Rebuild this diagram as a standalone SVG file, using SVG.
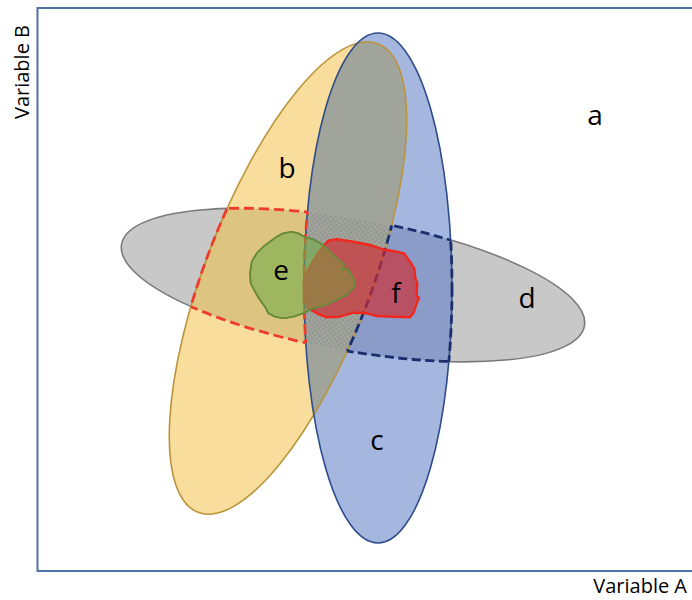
<svg xmlns="http://www.w3.org/2000/svg" xmlns:xlink="http://www.w3.org/1999/xlink" width="692" height="600" viewBox="0 0 692 600">
<style>
.lbl{font-family:"Open Sans","Liberation Sans",sans-serif;font-size:28px;fill:#000;text-anchor:middle}
.axis{font-family:"Open Sans","Liberation Sans",sans-serif;font-size:20px;fill:#000}
.rdash{fill:none;stroke:#ef3b2c;stroke-width:2.8;stroke-dasharray:10 5}
.bdash{fill:none;stroke:#1b2f6e;stroke-width:2.8;stroke-dasharray:9 4.5}
</style>
<defs>
<ellipse id="eB" cx="0" cy="0" rx="251" ry="83" transform="translate(288 278) rotate(-69)"/>
<ellipse id="eC" cx="378" cy="288" rx="74" ry="255"/>
<ellipse id="eD" cx="0" cy="0" rx="235" ry="66" transform="translate(353 285) rotate(10)"/>
<path id="pE" d="M251.7 261.7L256.7 253.3L263.3 246.7L270 241.7L276.7 236.7L283.3 233.3L291.7 231.7L298.3 233.3L305 237.3L313.3 239.3L323.3 245L331.7 253.3L338.3 259.5L344.5 264.5L341.5 270.5L347 268L351.7 275L355 281.7L353.3 288.3L346.7 295L336.7 300L326.7 305L313.3 308.3L303.3 313.3L293.3 316.7L283.3 318.3L275 316.7L268.3 313.3L265 306.7L260 300L255 291.7L250.7 283.3L250 273.3Z"/>
<path id="pF" d="M328.3 240.7L336.7 239.3L353.3 241.7L370 245L383.3 249.3L396.7 251.7L404 253.3L410 261.7L414.3 268.3L415.3 278.3L417.3 283.3L416.7 296.7L419 297.7L417.3 301.7L413.3 313.3L410 317.3L393.3 316.7L376.7 316L366.7 313.3L353.3 312.7L340 316.7L326.7 317.3L316.7 313.3L306.7 307.3L304 296.7L304.3 277.3L311.7 263.3L320 250Z"/>
<clipPath id="clipB"><ellipse cx="0" cy="0" rx="251" ry="83" transform="translate(288 278) rotate(-69)"/></clipPath>
<clipPath id="clipC"><ellipse cx="378" cy="288" rx="74" ry="255"/></clipPath>
<clipPath id="clipD"><ellipse cx="0" cy="0" rx="235" ry="66" transform="translate(353 285) rotate(10)"/></clipPath>
<clipPath id="clipF"><use xlink:href="#pF"/></clipPath>
<mask id="notB" maskUnits="userSpaceOnUse" x="0" y="0" width="692" height="600">
<rect x="0" y="0" width="692" height="600" fill="#fff"/>
<ellipse cx="0" cy="0" rx="251" ry="83" transform="translate(288 278) rotate(-69)" fill="#000"/>
</mask>
<mask id="notC" maskUnits="userSpaceOnUse" x="0" y="0" width="692" height="600">
<rect x="0" y="0" width="692" height="600" fill="#fff"/>
<ellipse cx="378" cy="288" rx="74" ry="255" fill="#000"/>
</mask>
<pattern id="stip" patternUnits="userSpaceOnUse" width="5" height="5">
<rect width="5" height="5" fill="#a2a59e"/>
<circle cx="1.25" cy="1.25" r="0.95" fill="#878a83"/>
<circle cx="3.75" cy="3.75" r="0.95" fill="#878a83"/>
</pattern>
</defs>
<rect width="692" height="600" fill="#fff"/>
<path d="M692 8H37.5V571H692" fill="none" stroke="#4f71a6" stroke-width="2"/>
<text class="axis" transform="translate(29 72) rotate(-90)" text-anchor="middle">Variable B</text>
<text class="axis" x="687" y="593" text-anchor="end">Variable A</text>

<g id="d">
<use xlink:href="#eD" fill="#c8c8c8" stroke="#7a7a7a" stroke-width="1.6"/>
</g>
<g id="b">
<use xlink:href="#eB" fill="#f9dd9d"/>
</g>
<g id="c">
<use xlink:href="#eC" fill="#a5b7df"/>
</g>
<g id="overlaps">
<use xlink:href="#eC" fill="#a0a49b" clip-path="url(#clipB)"/>
<use xlink:href="#eD" fill="#dec481" clip-path="url(#clipB)"/>
<use xlink:href="#eD" fill="#8a9cc7" clip-path="url(#clipC)"/>
<g clip-path="url(#clipB)"><use xlink:href="#eD" fill="url(#stip)" clip-path="url(#clipC)"/></g>
</g>
<g id="outlines">
<use xlink:href="#eB" fill="none" stroke="#bb943a" stroke-width="1.6"/>
<use xlink:href="#eC" fill="none" stroke="#2e4d8c" stroke-width="1.6"/>
</g>
<g id="bd-dashed">
<g clip-path="url(#clipB)"><use xlink:href="#eD" class="rdash" mask="url(#notC)"/></g>
<g clip-path="url(#clipD)"><use xlink:href="#eB" class="rdash" mask="url(#notC)"/></g>
<g clip-path="url(#clipB)"><g clip-path="url(#clipD)"><use xlink:href="#eC" class="rdash"/></g></g>
</g>
<g id="cd-dashed">
<g clip-path="url(#clipC)"><use xlink:href="#eD" class="bdash" mask="url(#notB)"/></g>
<g clip-path="url(#clipD)"><use xlink:href="#eC" class="bdash" mask="url(#notB)"/></g>
<g clip-path="url(#clipC)"><g clip-path="url(#clipD)"><use xlink:href="#eB" class="bdash"/></g></g>
</g>
<g id="f">
<use xlink:href="#pF" fill="#d22a30" fill-opacity="0.66" stroke="#f2281e" stroke-width="2.4" stroke-linejoin="round"/>
</g>
<g id="e">
<use xlink:href="#pE" fill="#70ad47" fill-opacity="0.58" stroke="#5a8a3a" stroke-width="1.6" stroke-linejoin="round"/>
<use xlink:href="#pE" fill="#9c7847" fill-opacity="0.92" clip-path="url(#clipF)"/>
<use xlink:href="#pE" fill="none" stroke="#6a8a3c" stroke-width="1.6" stroke-linejoin="round"/>
</g>
<g id="labels">
<text class="lbl" x="595" y="125">a</text>
<text class="lbl" x="287" y="178">b</text>
<text class="lbl" x="377" y="450">c</text>
<text class="lbl" x="527" y="308">d</text>
<text class="lbl" x="281" y="280">e</text>
<text class="lbl" x="396" y="303">f</text>
</g>
<g id="connectors"/>
</svg>
